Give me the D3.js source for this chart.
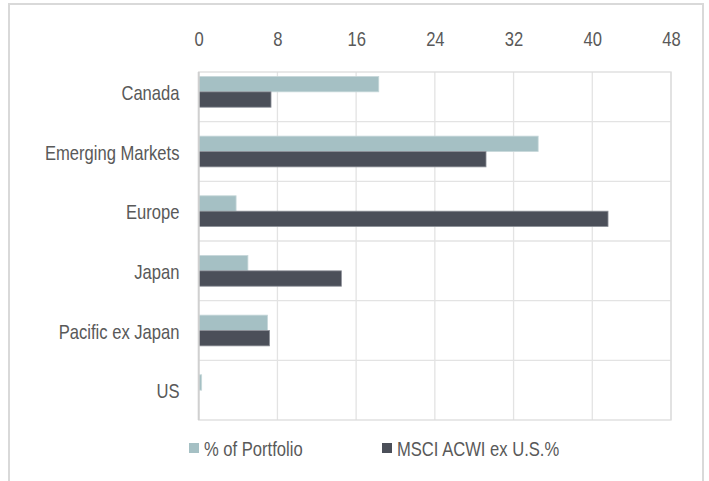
<!DOCTYPE html>
<html>
<head>
<meta charset="utf-8">
<script src="https://cdn.jsdelivr.net/npm/d3@7"></script>
<style>
  html, body { margin: 0; padding: 0; background: #fff; }
  svg { display: block; }
  text { font-family: "Liberation Sans", Arial, sans-serif; fill: #595959; }
</style>
</head>
<body>
<svg id="chart" width="709" height="481"></svg>
<script>
const categories = ["Canada", "Emerging Markets", "Europe", "Japan", "Pacific ex Japan", "US"];
const portfolio = [18.3, 34.5, 3.8, 5.0, 7.0, 0.3];
const msci = [7.35, 29.2, 41.6, 14.5, 7.2, 0];
const seriesNames = ["% of Portfolio", "MSCI ACWI ex U.S.%"];
const seriesColors = ["#a5c0c4", "#4b4f59"];
const xTicks = [0, 8, 16, 24, 32, 40, 48];

const svg = d3.select("#chart");
const W = 709, H = 481;
const FS = 20, NARROW = 0.83;

// outer frame (left, top, right edges)
svg.append("path")
  .attr("d", `M9,${H} L9,4 L703,4 L703,${H}`)
  .attr("fill", "none").attr("stroke", "#d9d9d9").attr("stroke-width", 2);

const left = 198.7, right = 671, plotTop = 72, bottom = 420;
const x = d3.scaleLinear().domain([0, 48]).range([left, right]);
const y = d3.scaleBand().domain(categories).range([62, bottom]);
const inner = d3.scaleBand().domain([0, 1]).range([0, y.bandwidth()]).paddingInner(0).paddingOuter(0.94);

// vertical gridlines
svg.append("g").selectAll("line").data(xTicks.slice(1)).join("line")
  .attr("x1", d => x(d)).attr("x2", d => x(d))
  .attr("y1", plotTop).attr("y2", bottom)
  .attr("stroke", "#e3e3e3").attr("stroke-width", 1.3);

// horizontal category separators
svg.append("g").selectAll("line").data(categories.slice(1)).join("line")
  .attr("x1", left).attr("x2", right)
  .attr("y1", d => y(d)).attr("y2", d => y(d))
  .attr("stroke", "#e3e3e3").attr("stroke-width", 1.3);

// plot border
svg.append("rect")
  .attr("x", left).attr("y", plotTop)
  .attr("width", right - left).attr("height", bottom - plotTop)
  .attr("fill", "none").attr("stroke", "#dcdcdc").attr("stroke-width", 1.3);

// bars
const data = categories.map((c, i) => ({ c, vals: [portfolio[i], msci[i]] }));
const groups = svg.append("g").selectAll("g").data(data).join("g")
  .attr("transform", d => `translate(0,${y(d.c)})`);
groups.selectAll("rect").data(d => d.vals.map((v, k) => ({ v, k }))).join("rect")
  .attr("x", x(0))
  .attr("y", d => inner(d.k))
  .attr("width", d => Math.max(0, x(d.v) - x(0)))
  .attr("height", inner.bandwidth())
  .attr("fill", d => seriesColors[d.k])
  .attr("stroke", d => d.v > 0 ? (d.k === 0 ? "#c7d8da" : "#8d9098") : "none")
  .attr("stroke-width", 0.8);

// left axis line
svg.append("line")
  .attr("x1", left).attr("x2", left).attr("y1", plotTop).attr("y2", bottom)
  .attr("stroke", "#d0d0d0").attr("stroke-width", 2);

// top axis labels
const xAxis = d3.axisTop(x).tickValues(xTicks).tickSize(0).tickPadding(0);
const gx = svg.append("g").attr("transform", "translate(0,46.3)").call(xAxis);
gx.select(".domain").remove();
gx.selectAll("text").attr("font-size", FS).attr("dy", 0).attr("fill", "#595959")
  .attr("font-family", "Liberation Sans, Arial, sans-serif")
  .attr("transform", `scale(${NARROW},1)`);

// category labels
const yAxis = d3.axisLeft(y).tickSize(0).tickPadding(0);
const gy = svg.append("g").attr("transform", "translate(179.5,0)").call(yAxis);
gy.select(".domain").remove();
gy.selectAll("text").attr("font-size", FS).attr("fill", "#595959")
  .attr("font-family", "Liberation Sans, Arial, sans-serif")
  .attr("dy", "0.4em")
  .attr("transform", `scale(${NARROW},1)`);

// legend
const legendX = [189, 382];
const leg = svg.append("g").selectAll("g").data(seriesNames).join("g")
  .attr("transform", (d, i) => `translate(${legendX[i]},0)`);
leg.append("rect").attr("x", 0).attr("y", 443).attr("width", 10).attr("height", 10)
  .attr("fill", (d, i) => seriesColors[i]);
leg.append("text").attr("transform", `translate(15,455.7) scale(${NARROW},1)`)
  .attr("font-size", FS).text(d => d);
</script>
</body>
</html>
